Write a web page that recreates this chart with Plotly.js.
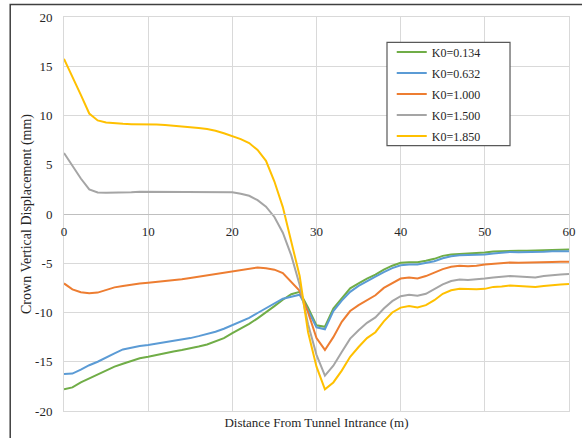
<!DOCTYPE html>
<html>
<head>
<meta charset="utf-8">
<script src="https://cdn.plot.ly/plotly-3.0.1.min.js"></script>
<style>
  html, body { margin: 0; padding: 0; background: #ffffff; overflow: hidden; }
  #chart { width: 582px; height: 438px; }
</style>
</head>
<body>
<div id="chart"></div>
<script>
// Distance from tunnel entrance (m)
const distance = [0,1,2,3,4,5,6,7,8,9,10,11,12,13,14,15,16,17,18,19,20,21,22,23,24,25,26,27,28,29,30,31,32,33,34,35,36,37,38,39,40,41,42,43,44,45,46,47,48,49,50,51,52,53,54,55,56,57,58,59,60];

const seriesNames = ["K0=0.134", "K0=0.632", "K0=1.000", "K0=1.500", "K0=1.850"];

// Crown vertical displacement (mm)
const k0_0134 = [-17.8,-17.6,-17.1,-16.7,-16.25,-15.85,-15.5,-15.2,-14.9,-14.65,-14.5,-14.3,-14.15,-13.95,-13.8,-13.65,-13.45,-13.25,-12.95,-12.6,-12.1,-11.65,-11.15,-10.6,-10.0,-9.35,-8.7,-8.15,-7.9,-9.5,-11.3,-11.45,-9.6,-8.55,-7.55,-7.05,-6.55,-6.15,-5.65,-5.25,-4.95,-4.9,-4.9,-4.75,-4.55,-4.25,-4.1,-4.05,-4.0,-4.0,-3.9,-3.8,-3.75,-3.7,-3.72,-3.72,-3.7,-3.68,-3.62,-3.6,-3.6];
const k0_0632 = [-16.25,-16.2,-15.8,-15.35,-15.0,-14.55,-14.15,-13.75,-13.55,-13.4,-13.3,-13.17,-13.05,-12.93,-12.8,-12.6,-12.4,-12.2,-11.95,-11.65,-11.3,-10.95,-10.55,-10.05,-9.55,-9.05,-8.6,-8.4,-8.2,-9.8,-11.5,-11.7,-9.85,-8.8,-7.9,-7.3,-6.8,-6.35,-5.9,-5.5,-5.2,-5.12,-5.13,-4.95,-4.8,-4.5,-4.3,-4.2,-4.18,-4.15,-4.1,-4.0,-3.92,-3.85,-3.88,-3.88,-3.88,-3.82,-3.78,-3.77,-3.77];
const k0_1000 = [-7.05,-7.65,-7.95,-8.05,-7.98,-7.72,-7.45,-7.3,-7.15,-7.05,-6.97,-6.9,-6.83,-6.72,-6.62,-6.5,-6.36,-6.22,-6.07,-5.92,-5.78,-5.65,-5.52,-5.43,-5.5,-5.65,-6.0,-6.85,-7.8,-10.0,-12.6,-13.8,-12.5,-10.95,-9.85,-9.25,-8.75,-8.25,-7.5,-7.0,-6.55,-6.45,-6.55,-6.3,-5.95,-5.6,-5.35,-5.25,-5.3,-5.25,-5.12,-5.05,-4.98,-4.92,-4.95,-4.95,-4.95,-4.92,-4.88,-4.85,-4.85];
const k0_1500 = [6.2,4.9,3.6,2.5,2.18,2.15,2.15,2.15,2.2,2.25,2.25,2.25,2.25,2.25,2.25,2.25,2.25,2.25,2.25,2.25,2.2,2.05,1.85,1.4,0.75,-0.3,-1.9,-4.2,-7.2,-11.2,-14.3,-16.4,-15.4,-14.0,-12.65,-11.8,-11.05,-10.5,-9.6,-8.85,-8.35,-8.2,-8.3,-8.1,-7.65,-7.15,-6.8,-6.65,-6.7,-6.65,-6.55,-6.45,-6.35,-6.3,-6.35,-6.4,-6.45,-6.3,-6.2,-6.15,-6.1];
const k0_1850 = [15.75,14.0,12.1,10.2,9.5,9.3,9.2,9.15,9.12,9.12,9.1,9.08,9.03,8.97,8.9,8.82,8.73,8.62,8.45,8.2,7.9,7.6,7.2,6.5,5.4,3.3,0.7,-2.9,-6.3,-12.0,-15.5,-17.8,-17.1,-15.9,-14.5,-13.5,-12.6,-12.0,-10.9,-10.0,-9.5,-9.35,-9.5,-9.25,-8.75,-8.1,-7.75,-7.6,-7.65,-7.65,-7.6,-7.4,-7.35,-7.25,-7.3,-7.35,-7.4,-7.3,-7.2,-7.15,-7.1];

const seriesColors = ["#70AD47", "#5B9BD5", "#ED7D31", "#A5A5A5", "#FFC000"];

// Tick labels
const xTickVals = [0,10,20,30,40,50,60];
const xTickText = ["0","10","20","30","40","50","60"];
const yTickVals = [-20,-15,-10,-5,0,5,10,15,20];
const yTickText = ["-20","-15","-10","-5","0","5","10","15","20"];

const seriesValues = [k0_0134, k0_0632, k0_1000, k0_1500, k0_1850];

// The last series sits on the overlaying x axis (same range) that carries the
// tick labels along y = 0, so that axis gets drawn.
const traces = seriesValues.map((vals, i) => ({
  type: "scatter",
  mode: "lines",
  name: seriesNames[i],
  legendgroup: "g" + i,
  x: distance,
  y: vals,
  xaxis: i === seriesValues.length - 1 ? "x2" : "x",
  yaxis: "y",
  line: { color: seriesColors[i], width: 2 },
  hoverinfo: "x+y+name"
}));

const FONT = "Liberation Serif, Times New Roman, serif";
const TXT = "#262626";

const layout = {
  width: 582,
  height: 438,
  margin: { l: 64, r: 13, t: 17, b: 27 },
  paper_bgcolor: "#ffffff",
  plot_bgcolor: "#ffffff",
  font: { family: FONT, size: 13, color: TXT },
  showlegend: true,
  legend: {
    x: 0.649, y: 0.948, xanchor: "left", yanchor: "top",
    bgcolor: "rgba(0,0,0,0)",
    borderwidth: 0,
    font: { family: FONT, size: 12, color: TXT },
    itemwidth: 30,
    tracegroupgap: 2
  },
  xaxis: {
    range: [0, 60],
    tickvals: xTickVals,
    ticktext: xTickText,
    showticklabels: false,
    ticks: "",
    showgrid: true,
    gridcolor: "#d9d9d9",
    gridwidth: 1,
    showline: true,
    mirror: true,
    linecolor: "#d9d9d9",
    linewidth: 1,
    zeroline: false,
    fixedrange: true,
    title: { text: "Distance From Tunnel Intrance (m)", font: { family: FONT, size: 13, color: TXT }, standoff: 6 }
  },
  xaxis2: {
    overlaying: "x",
    range: [0, 60],
    anchor: "free",
    position: 0.5,
    side: "bottom",
    tickvals: xTickVals,
    ticktext: xTickText,
    showticklabels: true,
    ticks: "",
    ticklabelstandoff: 5,
    showgrid: false,
    showline: true,
    linecolor: "#bfbfbf",
    linewidth: 1,
    zeroline: false,
    fixedrange: true,
    tickfont: { family: FONT, size: 13, color: TXT }
  },
  yaxis: {
    range: [-20, 20],
    tickvals: yTickVals,
    ticktext: yTickText,
    ticks: "",
    ticklabelstandoff: 8,
    showgrid: true,
    gridcolor: "#d9d9d9",
    gridwidth: 1,
    showline: true,
    mirror: true,
    linecolor: "#d9d9d9",
    linewidth: 1,
    zeroline: false,
    fixedrange: true,
    tickfont: { family: FONT, size: 13, color: TXT },
    title: { text: "Crown Vertical Displacement (mm)", font: { family: FONT, size: 14, color: TXT }, standoff: 0 }
  },
  shapes: [
    {
      // legend frame
      type: "rect", xref: "paper", yref: "paper",
      x0: 0.6396, x1: 0.8832, y0: 0.6734, y1: 0.9358,
      line: { color: "#595959", width: 1.2 },
      fillcolor: "#ffffff",
      layer: "above"
    },
    {
      // outer chart frame
      type: "rect", xref: "paper", yref: "paper",
      x0: -0.1065, x1: 3, y0: -3, y1: 1.0315,
      line: { color: "#404040", width: 1.5 },
      fillcolor: "rgba(0,0,0,0)",
      layer: "above"
    }
  ]
};

Plotly.newPlot("chart", traces, layout, { displayModeBar: false, staticPlot: true });
</script>
</body>
</html>
